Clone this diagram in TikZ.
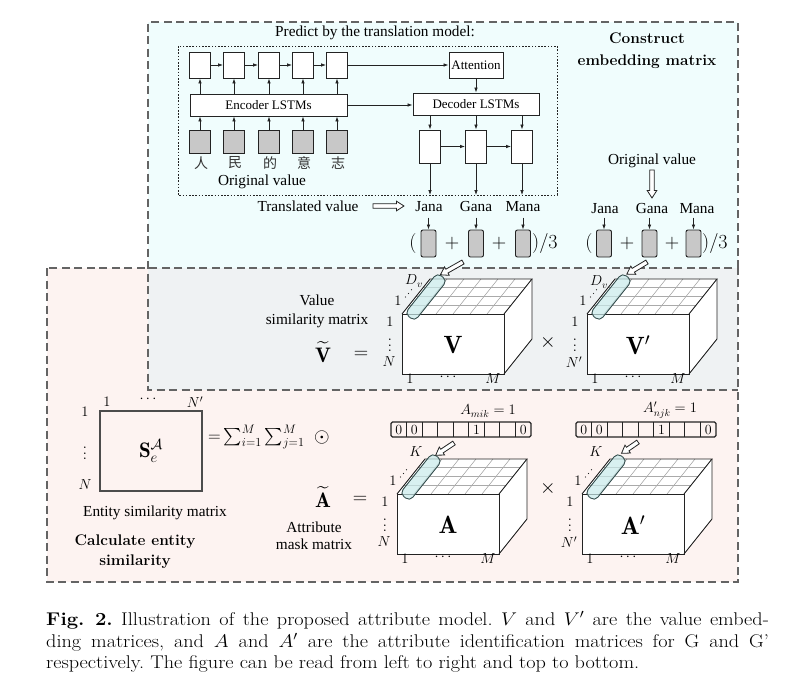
\RequirePackage{fix-cm}
\documentclass[tikz,border=0pt]{standalone}
\usepackage{exscale}
\usepackage{graphicx}
\usepackage{fontspec}
\newfontfamily\tnr{Liberation Serif}
\newfontfamily\cjk{Noto Sans CJK SC}
\usetikzlibrary{arrows.meta}

\definecolor{cyanbg}{RGB}{240,253,253}
\definecolor{pinkbg}{RGB}{253,243,241}
\definecolor{overbg}{RGB}{239,242,243}
\definecolor{framegray}{RGB}{100,100,100}
\definecolor{inbox}{RGB}{200,200,200}
\definecolor{capfill}{RGB}{200,234,234}
\definecolor{capline}{RGB}{55,80,80}
\definecolor{gridgray}{RGB}{170,170,170}
\definecolor{ink}{RGB}{35,35,35}

% vertical ellipsis with spacing proportional to the label size
\newcommand\tallvdots{\scalebox{1.45}{\fontsize{10}{12}\selectfont$\vdots$}}

\tikzset{
  frame/.style={draw=framegray, line width=1.8pt, dash pattern=on 8pt off 4.5pt},
  cell/.style={draw=ink, line width=0.9pt, fill=white, inner sep=0pt},
  gcell/.style={cell, fill=inbox},
  lbl/.style={font=\tnr\fontsize{15.3}{18}\selectfont, inner sep=0pt},
  boxlbl/.style={font=\tnr\fontsize{13}{15}\selectfont},
  arr/.style={draw=ink, line width=0.8pt, -{Latex[length=5pt,width=3.6pt]}},
  mth/.style={font=\fontsize{14.5}{17}\selectfont, inner sep=0pt},
  bigm/.style={font=\fontsize{20}{22}\selectfont, inner sep=0pt},
  hollow/.style={draw=ink, line width=0.8pt, fill=white, line join=miter},
  heading/.style={font=\fontsize{15.4}{22}\selectfont\bfseries, align=center, inner sep=0pt},
  gridline/.style={draw=gridgray, line width=0.6pt},
  slabedge/.style={draw=ink, line width=0.9pt},
  capsule/.style={draw=capline, line width=0.9pt, fill=capfill, fill opacity=0.7,
     rounded corners=5pt, minimum width=52pt, minimum height=12.5pt, inner sep=0pt, rotate=51.34},
  captext/.style={anchor=base west, inner sep=0pt, font=\fontsize{18.4}{21.5}\selectfont\frenchspacing},
}

% hollow block arrow: #1 tail point, #2 direction in degrees, #3 length
\newcommand\hollowarrow[3]{%
  \begin{scope}[shift={#1}, rotate=#2]
    \draw[hollow] (0,-2.2) -- (#3-7.5,-2.2) -- (#3-7.5,-4.8) -- (#3,0)
      -- (#3-7.5,4.8) -- (#3-7.5,2.2) -- (0,2.2) -- cycle;
  \end{scope}}

% 3-D matrix block: #1 front top-left corner, #2 name, #3 letter, #4 row count
\newcommand\drawslab[4]{%
  \begin{scope}[shift={#1}]
    \fill[white] (0,0) -- (28,-35) -- (130,-35) -- (130,25) -- (102,60) -- (0,60) -- cycle;
    \foreach \r in {1,2,3} \draw[gridline] ({7*\r},{-8.75*\r}) -- ({102+7*\r},{-8.75*\r});
    \foreach \k in {1,...,5} \draw[gridline] ({17*\k},0) -- ({17*\k+28},-35);
    \draw[slabedge] (0,0) rectangle (102,60);
    \draw[slabedge] (0,0) -- (28,-35) -- (130,-35) -- (102,0);
    \draw[slabedge] (130,-35) -- (130,25) -- (102,60);
    \node[capsule] (#2-cap) at (24,-17) {};
    \node[font=\fontsize{25}{25}\selectfont, inner sep=0pt] (#2-name) at (51,31) {$\mathbf{#3}$};
    \node[mth] (#2-r1) at (-12,8) {$1$};
    \node[mth] (#2-rd) at (-12,27) {\tallvdots};
    \node[mth] (#2-rn) at (-13,48) {$#4$};
    \node[mth] (#2-c1) at (8,65) {$1$};
    \node[mth] (#2-cd) at (46,63) {$\cdots$};
    \node[mth] (#2-cm) at (91,65) {$M$};
    \node[mth] (#2-d1) at (-4,-13) {$1$};
    \foreach \t in {0,1,2} \fill[ink] ({3.5+3*\t},{-17-3.6*\t}) circle (0.6);
  \end{scope}}

% attribute indicator row: #1 top-left corner, #2 name
\newcommand\maskrow[2]{%
  \begin{scope}[shift={#1}]
    \draw[slabedge, line width=1.1pt, rounded corners=1.5pt] (0,0) rectangle (140,15);
    \foreach \k in {1,...,8} \draw[slabedge] ({140*\k/9},0) -- ({140*\k/9},15);
    \foreach \k/\val in {1/0,2/0,6/1,9/0}
      \node[font=\fontsize{14}{14}\selectfont, inner sep=0pt] (#2-\k) at ({140*(\k-0.5)/9},7.5) {$\val$};
  \end{scope}}

\begin{document}
\begin{tikzpicture}[x=1pt, y=-1pt]
\useasboundingbox (0,0) rectangle (785,683);
\fill[white] (0,0) rectangle (785,683);

% panels
\fill[cyanbg] (148,22) rectangle (738,390);
\fill[pinkbg] (47,268) rectangle (738,582);
\fill[overbg] (148,268) rectangle (738,390);
\draw[frame] (47,268) rectangle (738,582);
\draw[frame] (738,268) -- (738,22) -- (148,22) -- (148,390) -- (738,390);

% ---------- translation model ----------
\node[lbl] (title) at (375,33) {Predict by the translation model:};
\draw[ink, line width=0.8pt, dash pattern=on 1.6pt off 1.6pt] (178,46) rectangle (557,195);

\foreach \i/\x/\ch in {1/200/人,2/234/民,3/269/的,4/303/意,5/337/志} {
  \node[cell, minimum width=21pt, minimum height=26pt] (e\i) at (\x,65) {};
  \node[gcell, minimum width=21pt, minimum height=23pt] (g\i) at (\x,141.5) {};
  \node[font=\cjk\fontsize{14}{14}\selectfont, text=black!80, inner sep=0pt] (c\i) at (\x+1,163) {\ch};
}
\node[cell, boxlbl, minimum width=54pt, minimum height=26pt] (att) at (476,65) {Attention};
\node[cell, boxlbl, minimum width=157pt, minimum height=22pt] (enc) at (268.5,105) {Encoder LSTMs};
\node[cell, boxlbl, minimum width=126pt, minimum height=22pt] (dec) at (476,104) {Decoder LSTMs};

\foreach \i [evaluate=\i as \j using int(\i+1)] in {1,...,4}
  \draw[arr] (e\i.east) -- (e\j.west);
\draw[arr] (e5.east) -- (att.west);
\foreach \i in {1,...,5} {
  \draw[arr] (enc.north -| e\i.south) -- (e\i.south);
  \draw[arr] (g\i.north) -- (g\i.north |- enc.south);
}
\draw[arr] (enc.east) -- (dec.west |- enc.east);
\draw[arr] (att.south) -- (dec.north);

\foreach \i/\x in {1/430,2/476,3/522} {
  \node[cell, minimum width=21pt, minimum height=33pt] (d\i) at (\x,146.5) {};
  \draw[arr] (dec.south -| d\i.north) -- (d\i.north);
  \coordinate (o\i) at (\x,195);
  \draw[arr] (d\i.south) -- (o\i);
}
\draw[arr] (d1.east) -- (d2.west);
\draw[arr] (d2.east) -- (d3.west);

\node[lbl] (orig1) at (262,182) {Original value};
\node[lbl, anchor=base] (trans) at (308,211) {Translated value};
\hollowarrow{(373,206)}{0}{31}

% averaged embeddings of the translations
\foreach \i/\x/\w/\bx in {1/429/Jana/428.5,2/476/Gana/476,3/523/Mana/523} {
  \node[lbl, anchor=base] (j\i) at (\x,211) {\w};
  \node[gcell, rounded corners=2pt, minimum width=15pt, minimum height=27pt] (b\i) at (\bx,243.5) {};
  \draw[arr] (b\i.north) ++(0,-12) -- (b\i.north);
}
\node[bigm] (lpa) at (413,243) {$($};
\node[bigm] (pla1) at (452,243) {$+$};
\node[bigm] (pla2) at (499,243) {$+$};
\node[bigm, anchor=west] (rpa) at (532,243) {$)/3$};

% ---------- construct embedding matrix ----------
\node[heading] (cem) at (647,51) {Construct\\embedding matrix};
\node[lbl] (orig2) at (652,161) {Original value};
\hollowarrow{(652,170)}{-90}{28}
\foreach \i/\x/\w/\bx in {1/605/Jana/604,2/652/Gana/649.5,3/697/Mana/693.5} {
  \node[lbl, anchor=base] (k\i) at (\x,213) {\w};
  \node[gcell, rounded corners=2pt, minimum width=15pt, minimum height=27pt] (m\i) at (\bx,243.5) {};
  \draw[arr] (m\i.north) ++(0,-12) -- (m\i.north);
}
\node[bigm] (lpb) at (589,243) {$($};
\node[bigm] (plb1) at (627,243) {$+$};
\node[bigm] (plb2) at (672,243) {$+$};
\node[bigm, anchor=west] (rpb) at (702,243) {$)/3$};

% ---------- value similarity ----------
\node[lbl, align=center, font=\tnr\fontsize{15.3}{19}\selectfont] (vsm) at (317,311) {Value\\similarity matrix};
\node[font=\fontsize{21}{21}\selectfont, inner sep=0pt] (vt) at (323,352) {$\widetilde{\mathbf{V}}$};
\node[bigm] (veq) at (361,355) {$=$};
\drawslab{(402,314)}{vs}{V}{N}
\drawslab{(587,314)}{vp}{V'}{N'}
\node[mth] (vsdep) at (414,281) {$D_v$};
\node[mth] (vpdep) at (599,282) {$D_v$};
\node[bigm] (vx) at (548,342) {$\times$};
\hollowarrow{(463,262)}{209.5}{26}
\hollowarrow{(647,262)}{211}{23.5}

% ---------- entity similarity ----------
\node[draw=black!70, line width=1.3pt, minimum width=102pt, minimum height=80pt, inner sep=0pt,
      font=\fontsize{21}{21}\selectfont] (sm) at (151,451) {$\mathbf{S}_e^{\mathcal{A}}$};
\node[mth] (sc1) at (107,402) {$1$};
\node[mth] (scd) at (148,399) {$\cdots$};
\node[mth] (scn) at (195,402) {$N'$};
\node[mth] (sr1) at (85,412) {$1$};
\node[mth] (srd) at (85,449) {\tallvdots};
\node[mth] (srn) at (85,485) {$N$};
\node[anchor=west, font=\fontsize{17.5}{17.5}\selectfont, inner sep=0pt] (sumf) at (208,437)
  {${=}\sum_{i=1}^{M}\sum_{j=1}^{M}$};
\node[bigm] (od) at (322,437) {$\odot$};
\node[lbl] (esm) at (155,513) {Entity similarity matrix};
\node[heading, font=\fontsize{15.4}{20}\selectfont\bfseries] (ces) at (135,552) {Calculate entity\\similarity};

% ---------- attribute masks ----------
\node[font=\fontsize{21}{21}\selectfont, inner sep=0pt] (at) at (323,497) {$\widetilde{\mathbf{A}}$};
\node[bigm] (aeq) at (360,500) {$=$};
\node[lbl, align=center, font=\tnr\fontsize{15.3}{17}\selectfont] (amm) at (314,536) {Attribute\\mask matrix};
\maskrow{(391,422)}{ra}
\maskrow{(576,422)}{rb}
\node[mth] (ral) at (488,411) {$A_{mik}=1$};
\node[mth] (rbl) at (670,410) {$A'_{njk}=1$};
\drawslab{(397,494)}{as}{A}{N}
\drawslab{(582,494)}{ap}{A'}{N'}
\node[mth] (asdep) at (416,452) {$K$};
\node[mth] (apdep) at (596,452) {$K$};
\node[bigm] (ax) at (548,488) {$\times$};
\hollowarrow{(454,443)}{213.7}{22}
\hollowarrow{(638,442)}{214.5}{20}

% ---------- caption (set slightly wide) ----------
\node[captext] (cap1) at (46,625) {\scalebox{1.1}[1]{\hbox to 657pt{\textbf{Fig.~2.} Illustration of the proposed attribute model. $V$ and $V'$ are the value embed-}}};
\node[captext] (cap2) at (46,647) {\scalebox{1.1}[1]{\hbox to 657pt{ding matrices, and $A$ and $A'$ are the attribute identification matrices for G and G'}}};
\node[captext] (cap3) at (46,668) {\scalebox{1.1}[1]{respectively. The figure can be read from left to right and top to bottom.}};
\end{tikzpicture}
\end{document}
